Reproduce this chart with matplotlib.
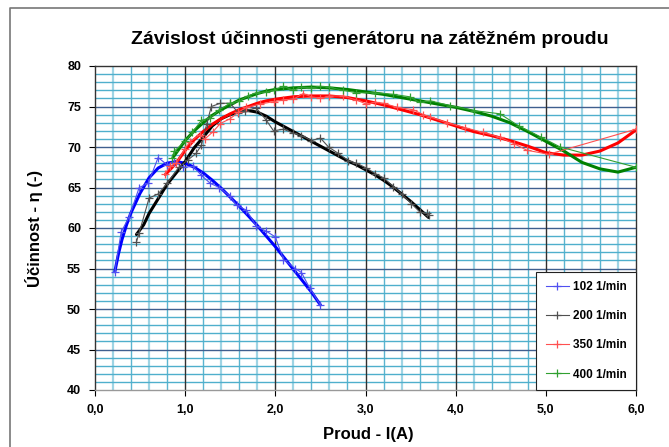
import matplotlib
matplotlib.use("Agg")
import matplotlib.pyplot as plt
from matplotlib.lines import Line2D
from matplotlib.ticker import MultipleLocator, FuncFormatter

plt.rcParams['font.family'] = ['Liberation Sans', 'DejaVu Sans']

# raw measured points (thin lines with + markers)
i_102 = [0.22, 0.29, 0.38, 0.49, 0.59, 0.70, 0.80, 0.88, 0.98, 1.09, 1.18, 1.28, 1.38, 1.50,
         1.57, 1.68, 1.79, 1.90, 2.00, 2.09, 2.22, 2.29, 2.38, 2.50]
eta_102 = [54.6, 59.5, 61.4, 65.0, 65.5, 68.7, 67.8, 68.1, 67.5, 67.6, 66.5, 65.5, 65.0, 63.9,
           62.8, 62.2, 60.2, 59.6, 58.9, 56.1, 55.0, 54.5, 52.6, 50.5]

i_200 = [0.46, 0.49, 0.60, 0.70, 0.80, 0.93, 1.03, 1.12, 1.18, 1.24, 1.29, 1.39, 1.50, 1.59,
         1.66, 1.79, 1.90, 1.98, 2.09, 2.20, 2.29, 2.40, 2.50, 2.59, 2.70, 2.81, 2.90, 3.01,
         3.11, 3.20, 3.31, 3.40, 3.51, 3.60, 3.68, 3.70]
eta_200 = [58.3, 59.4, 63.7, 64.2, 65.5, 67.5, 68.4, 69.2, 70.2, 72.9, 75.0, 75.4, 75.4, 74.2,
           74.5, 74.8, 73.3, 72.0, 72.2, 71.7, 71.4, 70.8, 71.1, 70.0, 69.2, 68.3, 68.0, 67.4,
           66.7, 66.2, 65.1, 64.2, 63.0, 62.0, 61.8, 61.6]

i_350 = [0.78, 0.83, 0.90, 1.00, 1.05, 1.16, 1.22, 1.31, 1.39, 1.50, 1.59, 1.68, 1.83, 1.98,
         2.09, 2.20, 2.31, 2.40, 2.50, 2.60, 2.75, 2.90, 3.01, 3.10, 3.20, 3.35, 3.53, 3.64,
         3.72, 3.90, 4.10, 4.30, 4.49, 4.65, 4.79, 5.03, 6.00]
eta_350 = [66.7, 67.6, 68.0, 69.8, 70.6, 71.5, 71.0, 71.9, 72.9, 73.5, 74.3, 74.9, 75.3, 75.6,
           75.8, 75.9, 76.6, 76.2, 76.0, 76.3, 76.3, 75.8, 75.3, 75.5, 75.4, 74.9, 74.6, 74.0,
           73.7, 73.0, 72.4, 71.8, 71.2, 70.4, 69.6, 69.1, 72.2]

i_400 = [0.85, 0.88, 1.00, 1.08, 1.18, 1.28, 1.38, 1.50, 1.60, 1.70, 1.79, 1.90, 1.98, 2.09,
         2.20, 2.29, 2.40, 2.50, 2.59, 2.75, 2.90, 3.10, 3.31, 3.49, 3.60, 3.72, 3.94, 4.20,
         4.49, 4.70, 4.95, 5.16, 6.00]
eta_400 = [68.6, 69.5, 70.7, 71.8, 73.3, 73.6, 74.6, 75.4, 75.7, 76.3, 76.7, 76.8, 77.0, 77.5,
           77.0, 77.4, 77.3, 77.5, 77.4, 77.0, 76.7, 76.7, 76.5, 76.2, 75.5, 75.7, 75.1, 74.5,
           74.1, 72.6, 71.2, 70.0, 67.5]

# trend lines (thick)
ti_102 = [0.22, 0.26, 0.3, 0.35, 0.4, 0.5, 0.6, 0.7, 0.8, 0.9, 1.0, 1.1, 1.2, 1.3, 1.4, 1.5,
          1.6, 1.7, 1.8, 1.9, 2.0, 2.1, 2.2, 2.3, 2.4, 2.5]
te_102 = [54.6, 56.8, 58.6, 60.4, 61.9, 64.3, 66.2, 67.4, 68.0, 68.2, 68.0, 67.5, 66.8, 65.9,
          64.9, 63.8, 62.7, 61.5, 60.3, 59.0, 57.7, 56.3, 54.9, 53.5, 52.1, 50.5]

ti_200 = [0.46, 0.54, 0.6, 0.7, 0.8, 0.9, 1.0, 1.1, 1.2, 1.3, 1.4, 1.5, 1.6, 1.7, 1.8, 1.9,
          2.0, 2.1, 2.2, 2.3, 2.4, 2.5, 2.6, 2.7, 2.8, 2.9, 3.0, 3.1, 3.2, 3.3, 3.4, 3.5, 3.6, 3.7]
te_200 = [59.2, 60.4, 61.8, 63.6, 65.4, 66.8, 68.2, 69.9, 71.2, 72.6, 73.5, 74.0, 74.4, 74.5,
          74.3, 73.8, 73.1, 72.5, 71.9, 71.3, 70.7, 70.1, 69.5, 68.9, 68.3, 67.8, 67.2, 66.6,
          65.9, 65.1, 64.2, 63.3, 62.3, 61.3]

ti_350 = [0.78, 0.9, 1.0, 1.1, 1.2, 1.3, 1.4, 1.5, 1.6, 1.7, 1.8, 1.9, 2.0, 2.2, 2.4, 2.6,
          2.8, 3.0, 3.2, 3.4, 3.6, 3.8, 4.0, 4.2, 4.4, 4.6, 4.8, 5.0, 5.2, 5.4, 5.6, 5.8, 6.0]
te_350 = [66.6, 68.0, 69.6, 70.9, 71.9, 72.8, 73.5, 74.1, 74.6, 75.0, 75.4, 75.7, 75.9, 76.2,
          76.3, 76.3, 76.1, 75.7, 75.2, 74.6, 74.0, 73.3, 72.6, 71.9, 71.4, 70.8, 70.1, 69.3,
          69.0, 69.0, 69.5, 70.5, 72.1]

ti_400 = [0.87, 1.0, 1.1, 1.2, 1.3, 1.4, 1.5, 1.6, 1.7, 1.8, 1.9, 2.0, 2.2, 2.4, 2.6, 2.8,
          3.0, 3.2, 3.4, 3.6, 3.8, 4.0, 4.2, 4.4, 4.6, 4.8, 5.0, 5.2, 5.4, 5.6, 5.8, 6.0]
te_400 = [68.8, 70.8, 72.0, 73.0, 73.9, 74.6, 75.2, 75.8, 76.2, 76.6, 76.9, 77.1, 77.3, 77.4,
          77.3, 77.1, 76.8, 76.5, 76.1, 75.7, 75.3, 74.9, 74.4, 73.8, 73.0, 71.9, 70.7, 69.5,
          68.1, 67.3, 66.9, 67.5]

labels = ["102 1/min", "200 1/min", "350 1/min", "400 1/min"]
thick_cols = ["#0000FF", "#000000", "#FF0000", "#008000"]
thin_cols = ["#5050F0", "#505050", "#FF5050", "#30A030"]

fig = plt.figure(figsize=(6.69, 4.47), dpi=100)
ax = fig.add_axes([95 / 669, 57 / 447, 541 / 669, 324 / 447])

# grid
for k in range(1, 30):
    x = k * 0.2
    if k % 5 == 0:
        continue
    ax.axvline(x, color="#9FD4E4" if k % 2 else "#5BB4D0", lw=1.6 if k % 2 else 1.0, zorder=0)
for y in range(41, 80):
    if y % 5 == 0:
        ax.axhline(y, color="#3F5F8F", lw=1.0, zorder=0.5)
    else:
        ax.axhline(y, color="#4FAFCC", lw=1.0, zorder=0.4)
for x in range(1, 6):
    ax.axvline(x, color="#303030", lw=1.0, zorder=0.6)

raws = [(i_102, eta_102), (i_200, eta_200), (i_350, eta_350), (i_400, eta_400)]
trends = [(ti_102, te_102), (ti_200, te_200), (ti_350, te_350), (ti_400, te_400)]

for (tx, ty), c in zip(trends, thick_cols):
    ax.plot(tx, ty, color=c, lw=2.2, zorder=2, solid_capstyle="round")
for (rx, ry), c, lab in zip(raws, thin_cols, labels):
    ax.plot(rx, ry, color=c, lw=0.8, marker="+", ms=6, mew=0.9, label=lab, zorder=3)

ax.set_xlim(0, 6)
ax.set_ylim(40, 80)
ax.xaxis.set_major_locator(MultipleLocator(1))
ax.yaxis.set_major_locator(MultipleLocator(5))
ax.xaxis.set_major_formatter(FuncFormatter(lambda v, p: f"{v:.1f}".replace(".", ",")))
ax.tick_params(axis="both", direction="out", length=4, width=0.8, labelsize=9, pad=6)
for lab in ax.get_xticklabels() + ax.get_yticklabels():
    lab.set_fontweight("bold")
for s in ax.spines.values():
    s.set_color("#333333")
    s.set_linewidth(1.0)
ax.spines["bottom"].set_color("#999999")

leg = ax.legend(loc="lower right", bbox_to_anchor=(1.0, 0.0), borderaxespad=0,
                fancybox=False, framealpha=1, edgecolor="#222222", labelspacing=1.45,
                handlelength=2.0, handletextpad=0.3, borderpad=0.8,
                prop={"weight": "bold", "size": 8.5})
leg.get_frame().set_linewidth(0.8)
leg.set_zorder(5)

fig.text(370 / 669, 1 - 40 / 447, "Závislost účinnosti generátoru na zátěžném proudu",
         ha="center", va="center", fontsize=14, fontweight="bold")
fig.text(368 / 669, 1 - 435 / 447, "Proud - I(A)", ha="center", va="center",
         fontsize=12, fontweight="bold")
fig.text(34 / 669, 1 - 228 / 447, "Účinnost - η (-)", ha="center", va="center",
         rotation=90, fontsize=12, fontweight="bold")

# outer chart frame
fig.add_artist(Line2D([10 / 669, 10 / 669, 1.0], [0.0, 1 - 8 / 447, 1 - 8 / 447],
                      transform=fig.transFigure, color="#777777", lw=1.2))

fig.savefig("out.png", dpi=100)
